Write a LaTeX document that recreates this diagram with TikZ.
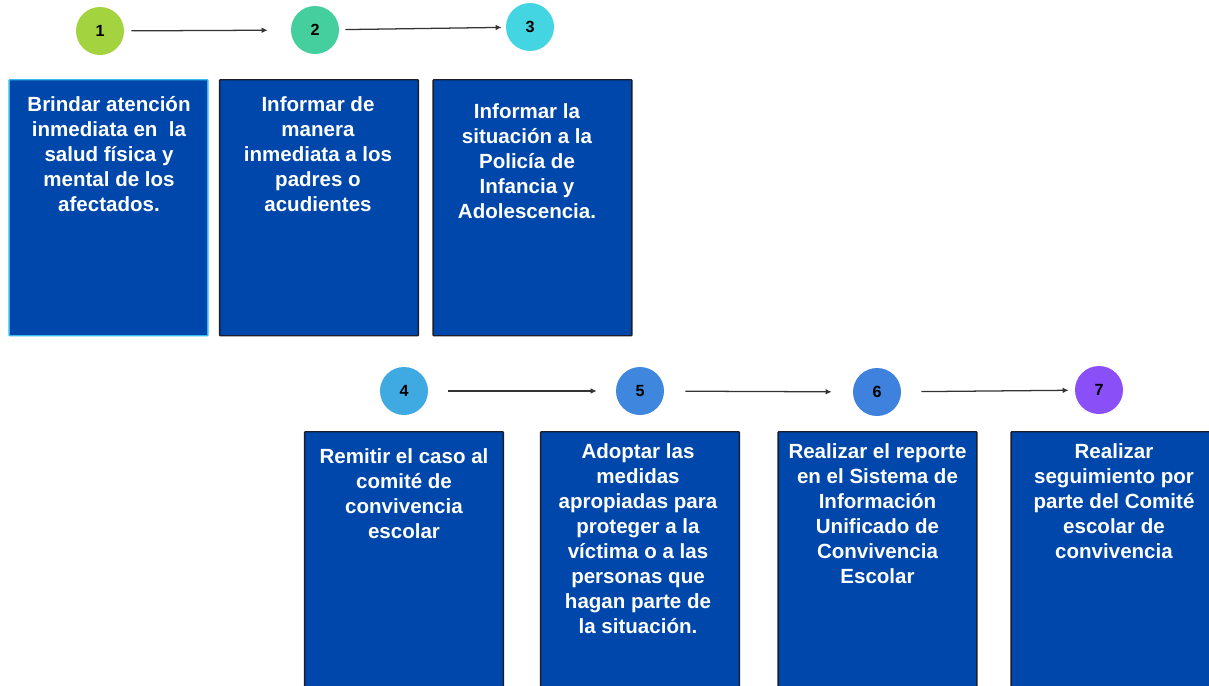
\documentclass[tikz,border=0pt]{standalone}
\usepackage{fontspec}
\setmainfont{Liberation Sans}
\usepackage{tikz}
\usetikzlibrary{arrows.meta}

\definecolor{boxblue}{HTML}{0047AB}
\definecolor{edgecyan}{HTML}{35B8EE}
\definecolor{edgedark}{HTML}{1C1C2A}
\definecolor{stepA}{HTML}{A3D440}
\definecolor{stepB}{HTML}{45CF9E}
\definecolor{stepC}{HTML}{43D5E1}
\definecolor{stepD}{HTML}{3FA9E1}
\definecolor{stepE}{HTML}{3F86DE}
\definecolor{stepF}{HTML}{3F82DD}
\definecolor{stepG}{HTML}{8A4FF7}

\begin{document}
\begin{tikzpicture}[x=0.025cm,y=-0.025cm,
  num/.style={circle,minimum size=1.2cm,inner sep=0,
    font=\fontsize{11.5}{14}\selectfont\bfseries},
  card/.style={draw=edgedark,line width=1pt,fill=boxblue,rounded corners=0.6pt,
    anchor=north,minimum width=4.97cm,inner sep=0},
  cardtext/.style={anchor=north,inner sep=0,align=center,text=white,
    font=\fontsize{14.6}{17.8}\selectfont\bfseries},
  link/.style={draw=black!80,line width=0.9pt,-{Latex[length=1.5mm,width=1.4mm]}}]
\useasboundingbox (0,0) rectangle (1209,685);
\clip (0,0) rectangle (1209,685);

% First row
\node[num,fill=stepA] (n1) at (100,31) {1};
\node[num,fill=stepB] (n2) at (315,30) {2};
\node[num,fill=stepC] (n3) at (530,27) {3};
\draw[link,shorten <=0.175cm,shorten >=0.575cm] (n1) -- (n2);
\draw[link,shorten <=0.15cm,shorten >=0.1cm] (n2) -- (n3);

\node[card,draw=edgecyan,minimum height=6.4cm] (b1) at (108.5,79) {};
\node[card,minimum height=6.4cm] (b2) at (319,79) {};
\node[card,minimum height=6.4cm] (b3) at (532.5,79) {};
\node[cardtext] (t1) at (109,96) {Brindar atención\\inmediata en \ la\\salud física y\\mental de los\\afectados.};
\node[cardtext] (t2) at (318,96) {Informar de\\manera\\inmediata a los\\padres o\\acudientes};
\node[cardtext] (t3) at (527,103) {Informar la\\situación a la\\Policía de\\Infancia y\\Adolescencia.};

% Second row
\node[num,fill=stepD] (n4) at (404,391) {4};
\node[num,fill=stepE] (n5) at (640,391) {5};
\node[num,fill=stepF] (n6) at (877,392) {6};
\node[num,fill=stepG] (n7) at (1099,390) {7};
\draw[link,shorten <=0.5cm,shorten >=0.475cm] (n4) -- (n5);
\draw[link,shorten <=0.525cm,shorten >=0.525cm] (n5) -- (n6);
\draw[link,shorten <=0.5cm,shorten >=0.15cm] (n6) -- (n7);

\node[card,minimum height=7.5cm] (b4) at (404,431) {};
\node[card,minimum height=7.5cm] (b5) at (640,431) {};
\node[card,minimum height=7.5cm] (b6) at (877.5,431) {};
\node[card,minimum height=7.5cm] (b7) at (1110.5,431) {};
\node[cardtext] (t4) at (404,448) {Remitir el caso al\\comité de\\convivencia\\escolar};
\node[cardtext] (t5) at (638,443) {Adoptar las\\medidas\\apropiadas para\\proteger a la\\víctima o a las\\personas que\\hagan parte de\\la situación.};
\node[cardtext] (t6) at (877.5,443) {Realizar el reporte\\en el Sistema de\\Información\\Unificado de\\Convivencia\\Escolar};
\node[cardtext] (t7) at (1114,443) {Realizar\\seguimiento por\\parte del Comité\\escolar de\\convivencia};
\end{tikzpicture}
\end{document}
